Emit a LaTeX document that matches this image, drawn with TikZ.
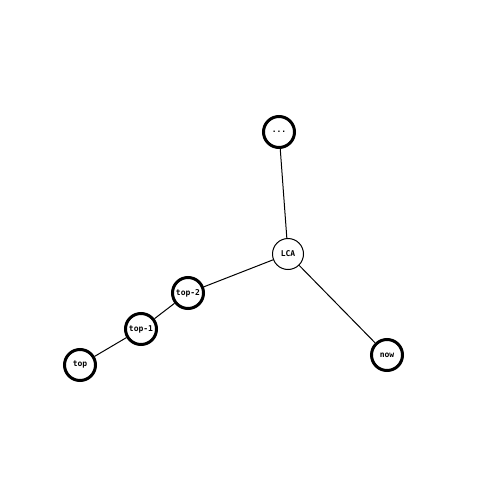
\documentclass[tikz,border=0pt]{standalone}
\usepackage{fontspec}
\newfontfamily\monofont{DejaVu Sans Mono}
\begin{document}
\begin{tikzpicture}[x=1pt,y=-1pt,
  vnode/.style={circle,draw=black,line width=3pt,minimum size=31pt,inner sep=0pt,font=\monofont\bfseries\fontsize{8}{9}\selectfont,fill=white},
  lnode/.style={vnode,line width=1pt},
  edge/.style={draw=black,line width=1pt}]
\useasboundingbox (0,0) rectangle (500,500);
\node[vnode] (dots) at (279,132) {...};
\node[lnode] (lca) at (288,254) {LCA};
\node[vnode] (now) at (387,355) {now};
\node[vnode] (t2) at (188,293) {top-2};
\node[vnode] (t1) at (141,329) {top-1};
\node[vnode] (t0) at (80,365) {top};
\draw[edge] (dots) -- (lca);
\draw[edge] (lca) -- (now);
\draw[edge] (lca) -- (t2);
\draw[edge] (t2) -- (t1);
\draw[edge] (t1) -- (t0);
\end{tikzpicture}
\end{document}
